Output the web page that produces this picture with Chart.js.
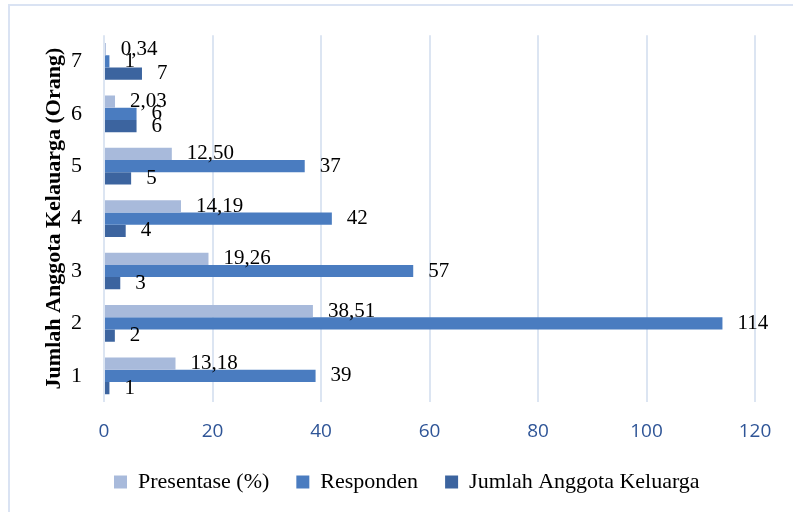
<!DOCTYPE html>
<html>
<head>
<meta charset="utf-8">
<script src="https://cdn.jsdelivr.net/npm/chart.js@4.4.0/dist/chart.umd.min.js"></script>
<style>
  html, body { margin: 0; padding: 0; background: #fff; }
  #wrap { position: relative; width: 793px; height: 512px; overflow: hidden; }
  #frame { position: absolute; left: 8px; top: 4px; width: 800px; height: 520px; border: 2px solid #dae3f3; }
  canvas { position: absolute; left: 0; top: 0; }
</style>
</head>
<body>
<div id="wrap">
  <div id="frame"></div>
  <canvas id="chart" width="793" height="512"></canvas>
</div>
<script>
// jumlah anggota keluarga (orang), dari bawah ke atas
const categories = ['1', '2', '3', '4', '5', '6', '7'];
const presentase = [13.18, 38.51, 19.26, 14.19, 12.50, 2.03, 0.34];
const responden = [39, 114, 57, 42, 37, 6, 1];
const jumlahAnggota = [1, 2, 3, 4, 5, 6, 7];
const xTicks = [0, 20, 40, 60, 80, 100, 120];
const seriesNames = ['Presentase (%)', 'Responden', 'Jumlah Anggota Keluarga'];
const axisTitle = 'Jumlah Anggota Kelauarga (Orang)';

const serif = '"Liberation Serif", "Times New Roman", serif';
const rev = arr => arr.slice().reverse();   // kategori 7 di atas

// label nilai di ujung batang
const valueLabels = {
  id: 'valueLabels',
  afterDatasetsDraw(chart) {
    const ctx = chart.ctx;
    ctx.save();
    ctx.font = '21px ' + serif;
    ctx.fillStyle = '#000';
    ctx.textBaseline = 'middle';
    ctx.textAlign = 'left';
    chart.data.datasets.forEach((ds, i) => {
      chart.getDatasetMeta(i).data.forEach((bar, j) => {
        const v = ds.data[j];
        const txt = ds.decimals ? v.toFixed(ds.decimals).replace('.', ',') : String(v);
        ctx.fillText(txt, bar.x + 15, bar.y);
      });
    });
    ctx.restore();
  }
};

// geser legenda ke kiri bawah
const legendShift = {
  id: 'legendShift',
  afterLayout(chart) {
    const lg = chart.legend;
    const pad = lg.options.labels.padding;
    const w = lg.right - lg.left;
    lg.left = 114 - pad;
    lg.right = lg.left + w;
    lg.top = 482 - pad - 11;
  }
};

new Chart(document.getElementById('chart'), {
  type: 'bar',
  data: {
    labels: rev(categories),
    datasets: [
      { label: seriesNames[0], data: rev(presentase), decimals: 2, backgroundColor: '#a8badb' },
      { label: seriesNames[1], data: rev(responden), backgroundColor: '#4a7cc0' },
      { label: seriesNames[2], data: rev(jumlahAnggota), backgroundColor: '#3c649f' }
    ]
  },
  options: {
    indexAxis: 'y',
    responsive: false,
    animation: false,
    categoryPercentage: 0.7,
    barPercentage: 1.0,
    layout: { padding: { left: 41, top: 28.8, right: 38, bottom: 0 } },
    scales: {
      x: {
        min: xTicks[0],
        max: xTicks[xTicks.length - 1],
        afterFit: s => { s.height = 51; },
        grid: { color: '#dce5f2', lineWidth: 2, drawTicks: false },
        border: { display: false },
        ticks: {
          stepSize: xTicks[1] - xTicks[0],
          padding: 18,
          color: '#2f5597',
          font: { family: '"Open Sans", sans-serif', size: 19 }
        }
      },
      y: {
        afterFit: s => { s.width = 104 - 41; },
        grid: { display: false, drawTicks: false },
        border: { display: false },
        ticks: { padding: 22, color: '#000', font: { family: serif, size: 22 } },
        title: {
          display: true,
          text: axisTitle,
          color: '#000',
          padding: 0,
          font: { family: serif, size: 22, weight: 'bold' }
        }
      }
    },
    plugins: {
      tooltip: { enabled: false },
      legend: {
        position: 'bottom',
        align: 'start',
        labels: {
          color: '#000',
          boxWidth: 13,
          boxHeight: 13,
          padding: 27,
          font: { family: serif, size: 22 }
        }
      }
    }
  },
  plugins: [valueLabels, legendShift]
});
</script>
</body>
</html>
